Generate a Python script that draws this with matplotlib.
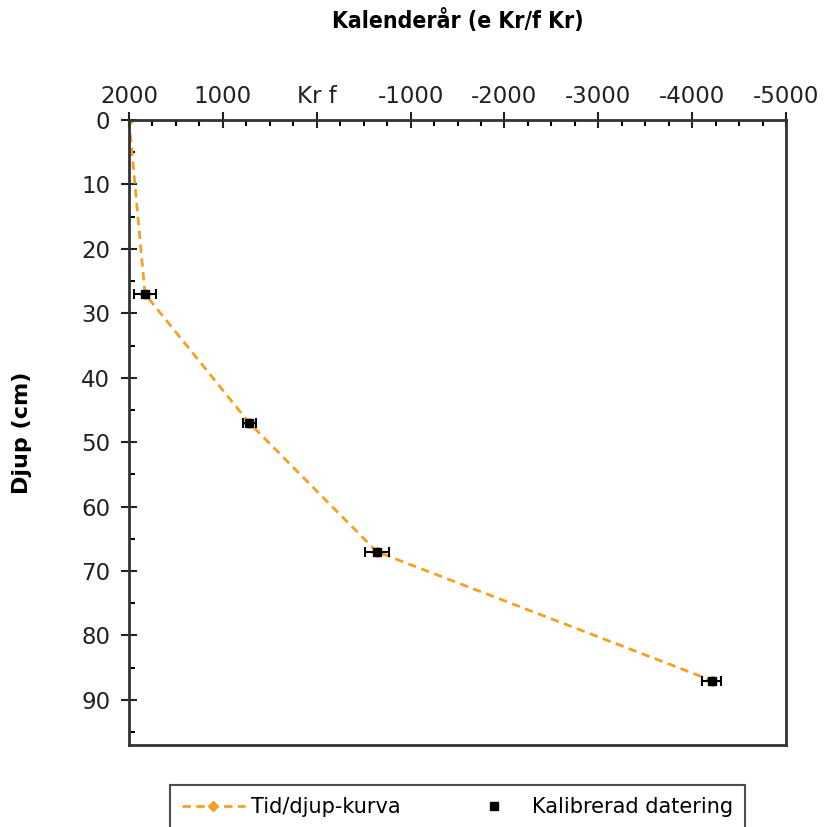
import matplotlib.pyplot as plt
from matplotlib.lines import Line2D
from matplotlib.ticker import MultipleLocator, FixedLocator, FixedFormatter

# data
curve_year = [2000, 1830, 720, -640, -4210]
curve_depth = [0, 27, 47, 67, 87]

cal_year = [1830, 720, -640, -4210]
cal_depth = [27, 47, 67, 87]
cal_err = [120, 70, 130, 100]

xticks = [2000, 1000, 0, -1000, -2000, -3000, -4000, -5000]
xticklabels = ["2000", "1000", "Kr f", "-1000", "-2000", "-3000", "-4000", "-5000"]
yticks = [0, 10, 20, 30, 40, 50, 60, 70, 80, 90]

plt.rcParams['font.family'] = ['DejaVu Sans']
fig = plt.figure(figsize=(8.25, 8.27), dpi=100)
ax = fig.add_axes([0.1564, 0.0992, 0.7963, 0.7557])

orange = '#f5a020'
ax.plot(curve_year, curve_depth, linestyle='--', color=orange, lw=2,
        marker='D', markersize=5, dashes=(3, 2), zorder=2)
ax.errorbar(cal_year, cal_depth, xerr=cal_err, fmt='s', color='black',
            markersize=6, capsize=3.6, elinewidth=1.5, capthick=1.5, zorder=3)

ax.set_xlim(2000, -5000)
ax.set_ylim(97, 0)

ax.xaxis.tick_top()
ax.xaxis.set_label_position('top')
ax.xaxis.set_major_locator(FixedLocator(xticks))
ax.xaxis.set_major_formatter(FixedFormatter(xticklabels))
ax.xaxis.set_minor_locator(MultipleLocator(250))
ax.yaxis.set_major_locator(FixedLocator(yticks))
ax.yaxis.set_minor_locator(MultipleLocator(5))

ax.tick_params(axis='both', which='major', direction='inout', length=11,
               width=1.5, labelsize=16.5, colors='#222222')
ax.tick_params(axis='x', which='major', pad=3)
ax.tick_params(axis='y', which='major', pad=8)
ax.tick_params(axis='both', which='minor', direction='in', length=4, width=1.5)

for s in ax.spines.values():
    s.set_linewidth(2)
    s.set_color('#333333')

ax.set_xlabel('Kalenderår (e Kr/f Kr)', fontsize=16.5, fontweight='bold',
              fontstretch='condensed')
ax.xaxis.set_label_coords(0.5, 1.148)
ax.set_ylabel('Djup (cm)', fontsize=16, fontweight='bold')
ax.yaxis.set_label_coords(-0.148, 0.5)

handles = [
    Line2D([], [], linestyle='--', color=orange, lw=2, dashes=(3, 2),
           marker='D', markersize=5),
    Line2D([], [], linestyle='none', color='black', marker='s', markersize=6),
]
labels = ['Tid/djup-kurva', 'Kalibrerad datering']
leg = ax.legend(handles, labels, loc='upper center', bbox_to_anchor=(0.5, -0.047),
                ncol=2, fontsize=15, frameon=True, fancybox=False,
                edgecolor='#222222', handlelength=3, handletextpad=0.3,
                columnspacing=3, borderpad=0.6)
leg.get_frame().set_linewidth(1.5)

fig.savefig('out.png', dpi=100)
